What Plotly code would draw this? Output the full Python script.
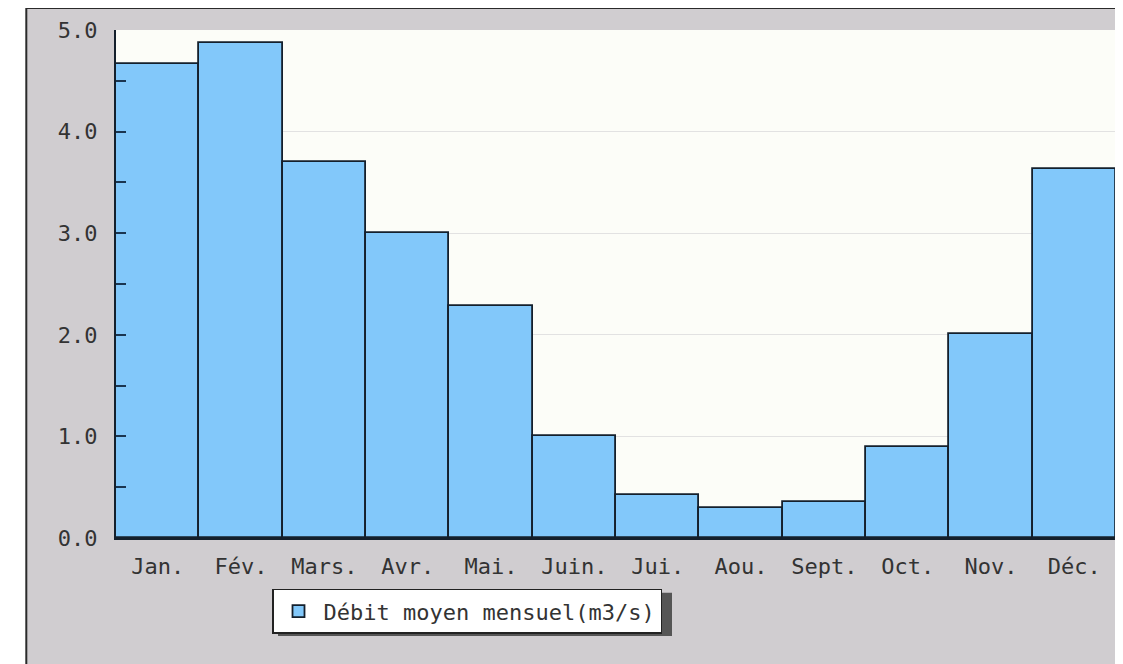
import plotly.graph_objects as go

months = ["Jan.", "Fév.", "Mars.", "Avr.", "Mai.", "Juin.",
          "Jui.", "Aou.", "Sept.", "Oct.", "Nov.", "Déc."]
debit = [4.67, 4.87, 3.70, 3.00, 2.28, 1.00, 0.42, 0.30, 0.35, 0.90, 2.01, 3.63]
series_name = "Débit moyen mensuel(m3/s)"
y_ticks = [0, 1, 2, 3, 4, 5]
y_tick_text = ["0.0", "1.0", "2.0", "3.0", "4.0", "5.0"]

font_mono = "DejaVu Sans Mono"
frame_bg = "#d0cdd0"
dark = "#14202c"

fig = go.Figure()
fig.add_trace(go.Bar(
    x=months,
    y=debit,
    name=series_name,
    marker=dict(color="#82c8fa", line=dict(color=dark, width=1.8)),
    showlegend=True,
))

# white strip left of the grey frame
fig.add_shape(type="rect", xref="paper", yref="paper",
              x0=-0.5, x1=-0.0897, y0=-0.5, y1=1.5,
              fillcolor="white", line=dict(width=0), layer="above")
# dark frame border
fig.add_shape(type="line", xref="paper", yref="paper",
              x0=-0.0897, x1=-0.0897, y0=-0.5, y1=1.0433,
              line=dict(color="#2a2a2a", width=2))
fig.add_shape(type="line", xref="paper", yref="paper",
              x0=-0.0897, x1=1.5, y0=1.0433, y1=1.0433,
              line=dict(color="#2a2a2a", width=2))
# legend drop shadow
fig.add_shape(type="rect", xref="paper", yref="paper",
              x0=0.162, x1=0.556, y0=-0.193, y1=-0.108,
              fillcolor="#555555", line=dict(width=0), layer="below")

fig.update_layout(
    width=1115, height=656,
    margin=dict(l=108, r=7, t=22, b=126),
    paper_bgcolor=frame_bg,
    plot_bgcolor="#fcfdf8",
    bargap=0,
    font=dict(family=font_mono, size=22, color="#333333"),
    showlegend=True,
    legend=dict(
        x=0.156, y=-0.100, xanchor="left", yanchor="top",
        bgcolor="white", bordercolor="#222222", borderwidth=1.5,
        font=dict(family=font_mono, size=22, color="#333333"),
        itemwidth=40,
    ),
    xaxis=dict(
        showgrid=False, ticks="", ticklabelstandoff=8,
        showline=True, linecolor=dark, linewidth=2,
    ),
    yaxis=dict(
        range=[0, 5], tickvals=y_ticks, ticktext=y_tick_text,
        showgrid=True, gridcolor="#e2e2e2", gridwidth=1,
        ticks="inside", ticklen=10, tickwidth=2, tickcolor="#1a3550",
        ticklabelstandoff=12,
        minor=dict(dtick=0.5, ticks="inside", ticklen=10, tickwidth=2,
                   tickcolor="#1a3550", showgrid=False),
        showline=True, linecolor=dark, linewidth=2,
        zeroline=False,
    ),
)

fig.write_html("out.html")
